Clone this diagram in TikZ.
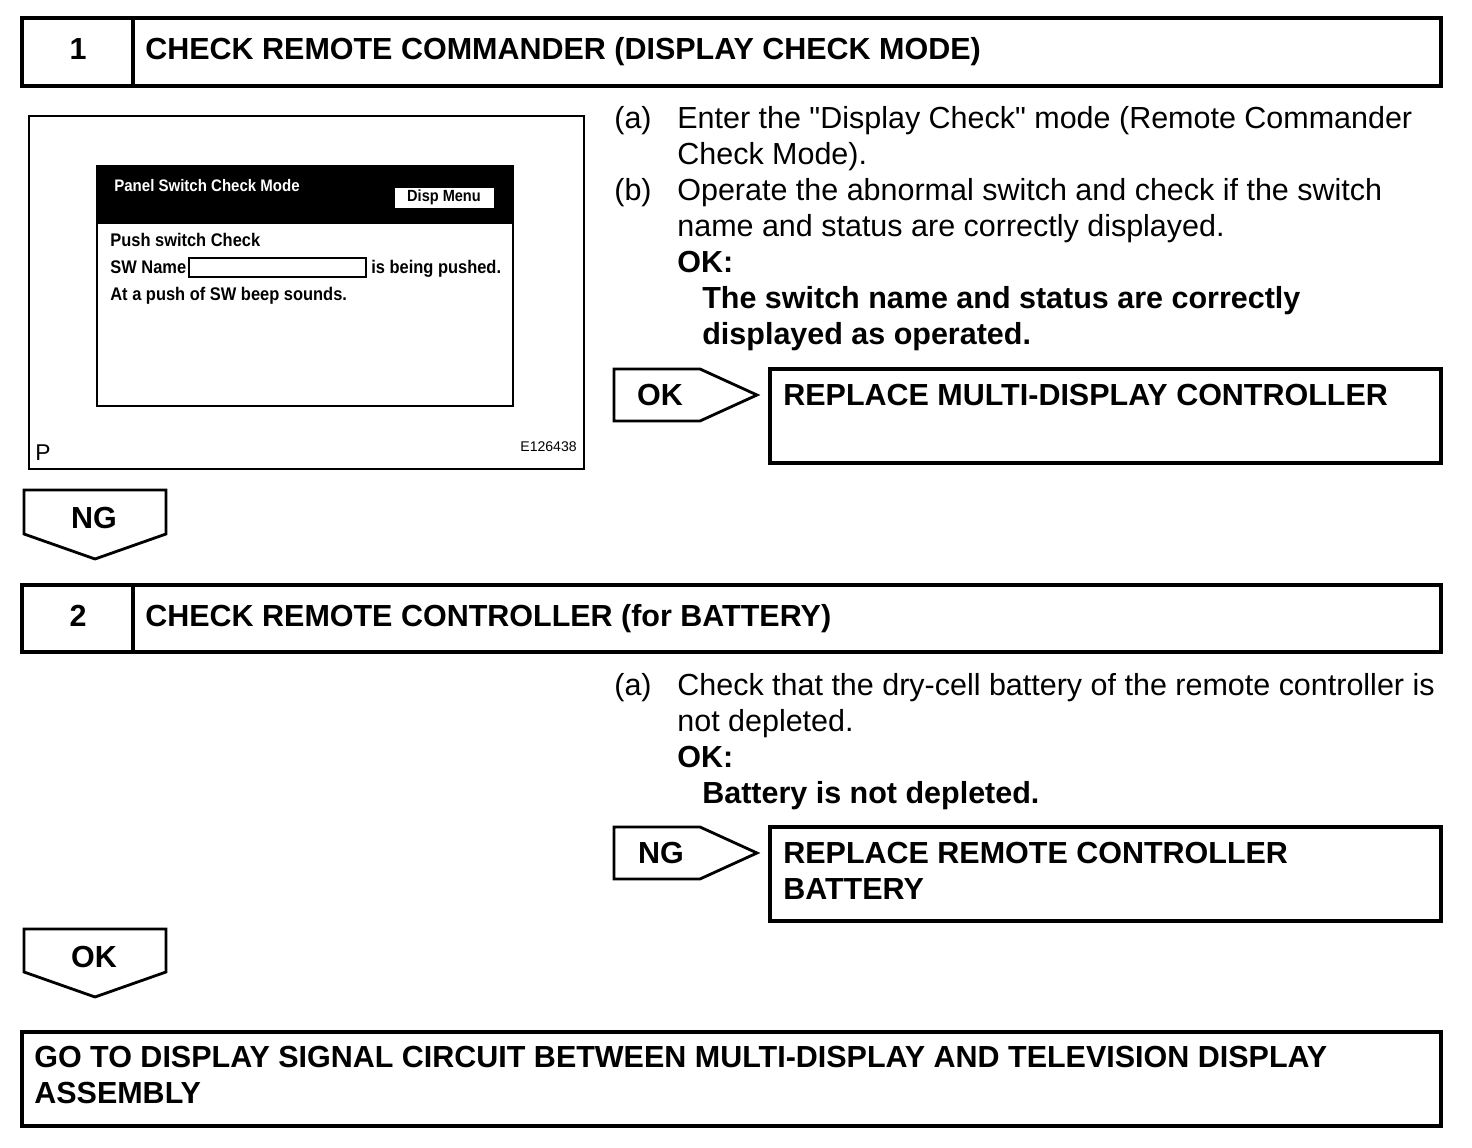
\documentclass[tikz,border=0pt]{standalone}
\usepackage{fontspec}
\setmainfont{Liberation Sans}[Ligatures=TeXOff]
\newfontfamily\screenfont[FakeStretch=0.9]{Liberation Sans}
\usetikzlibrary{positioning}

\begin{document}
\begin{tikzpicture}[x=0.02cm, y=-0.02cm,
    frame/.style={draw, line width=2pt},
    tag/.style={draw, line width=1.6pt, line join=miter},
    head/.style={anchor=base west, inner sep=0pt, font=\fontsize{17.35}{20.4}\selectfont\bfseries},
    body/.style={anchor=base west, inner sep=0pt, font=\fontsize{17.35}{20.4}\selectfont},
    num/.style={anchor=base, inner sep=0pt, font=\fontsize{17.35}{20.4}\selectfont\bfseries},
    scr/.style={anchor=base west, inner sep=0pt, font=\screenfont\fontsize{10.4}{11}\selectfont\bfseries}
]
\useasboundingbox (0,0) rectangle (1472,1148);

% step 1
\draw[frame] (22,18) rectangle (1441,86);
\draw[frame] (133,18) -- (133,86);
\node[num] (n1) at (78,60) {1};
\node[head] (t1) at (145,60) {CHECK REMOTE COMMANDER (DISPLAY CHECK MODE)};

% illustration of the screen
\draw[line width=1.1pt] (29,116) rectangle (584,469);
\fill (97,166) rectangle (513,224);
\draw[line width=1.4pt] (97,166) rectangle (513,406);
\node[scr, text=white, font=\screenfont\fontsize{9.5}{11}\selectfont\bfseries] (scrhead) at (114,192) {Panel Switch Check Mode};
\draw[fill=white] (394,187) rectangle (494,208);
\node[scr, anchor=base, font=\screenfont\fontsize{9.2}{11}\selectfont\bfseries] (dispmenu) at (444,202) {Disp Menu};
\node[scr] (push) at (110,247) {Push switch Check};
\node[scr] (swname) at (110,274) {SW Name};
\draw[line width=0.8pt] (189,258) rectangle (366,277);
\node[scr] (pushed) at (371,274) {is being pushed.};
\node[scr] (beep) at (110,301) {At a push of SW beep sounds.};
\node[anchor=base west, inner sep=0pt, font=\fontsize{13}{14}\selectfont] (pmark) at (35,461) {P};
\node[anchor=base east, inner sep=0pt, font=\fontsize{8}{9}\selectfont] (code) at (577,452) {E126438};

% step 1 text
\node[body] (la) at (614,129) {(a)};
\node[body] (ta1) at (677,129) {Enter the "Display Check" mode (Remote Commander};
\node[body] (ta2) at (677,165) {Check Mode).};
\node[body] (lb) at (614,201) {(b)};
\node[body] (tb1) at (677,201) {Operate the abnormal switch and check if the switch};
\node[body] (tb2) at (677,237) {name and status are correctly displayed.};
\node[head] (ok1) at (677,273) {OK:};
\node[head] (std1a) at (702,309) {The switch name and status are correctly};
\node[head] (std1b) at (702,345) {displayed as operated.};

% OK -> replace controller
\draw[tag] (614,369) -- (700,369) -- (757,395) -- (700,421) -- (614,421) -- cycle;
\node[num] (okr) at (660,406) {OK};
\draw[frame] (770,369) rectangle (1441,463);
\node[head] (rep1) at (783,406) {REPLACE MULTI-DISPLAY CONTROLLER};

% NG down
\draw[tag] (24,490) -- (166,490) -- (166,534) -- (95,559) -- (24,534) -- cycle;
\node[num] (ngd) at (94,529) {NG};

% step 2
\draw[frame] (22,585) rectangle (1441,652);
\draw[frame] (133,585) -- (133,652);
\node[num] (n2) at (78,627) {2};
\node[head] (t2) at (145,627) {CHECK REMOTE CONTROLLER (for BATTERY)};

\node[body] (la2) at (614,696) {(a)};
\node[body] (tc1) at (677,696) {Check that the dry-cell battery of the remote controller is};
\node[body] (tc2) at (677,732) {not depleted.};
\node[head] (ok2) at (677,768) {OK:};
\node[head] (std2) at (702,804) {Battery is not depleted.};

% NG -> replace battery
\draw[tag] (614,827) -- (700,827) -- (757,853) -- (700,879) -- (614,879) -- cycle;
\node[num] (ngr) at (661,864) {NG};
\draw[frame] (770,827) rectangle (1441,921);
\node[head] (rep2a) at (783,864) {REPLACE REMOTE CONTROLLER};
\node[head] (rep2b) at (783,900) {BATTERY};

% OK down
\draw[tag] (24,929) -- (166,929) -- (166,972) -- (95,997) -- (24,972) -- cycle;
\node[num] (okd) at (94,968) {OK};

% final step
\draw[frame] (22,1032) rectangle (1441,1126);
\node[head] (go1) at (34,1067) {GO TO DISPLAY SIGNAL CIRCUIT BETWEEN MULTI-DISPLAY AND TELEVISION DISPLAY};
\node[head] (go2) at (34,1103) {ASSEMBLY};
\end{tikzpicture}
\end{document}
